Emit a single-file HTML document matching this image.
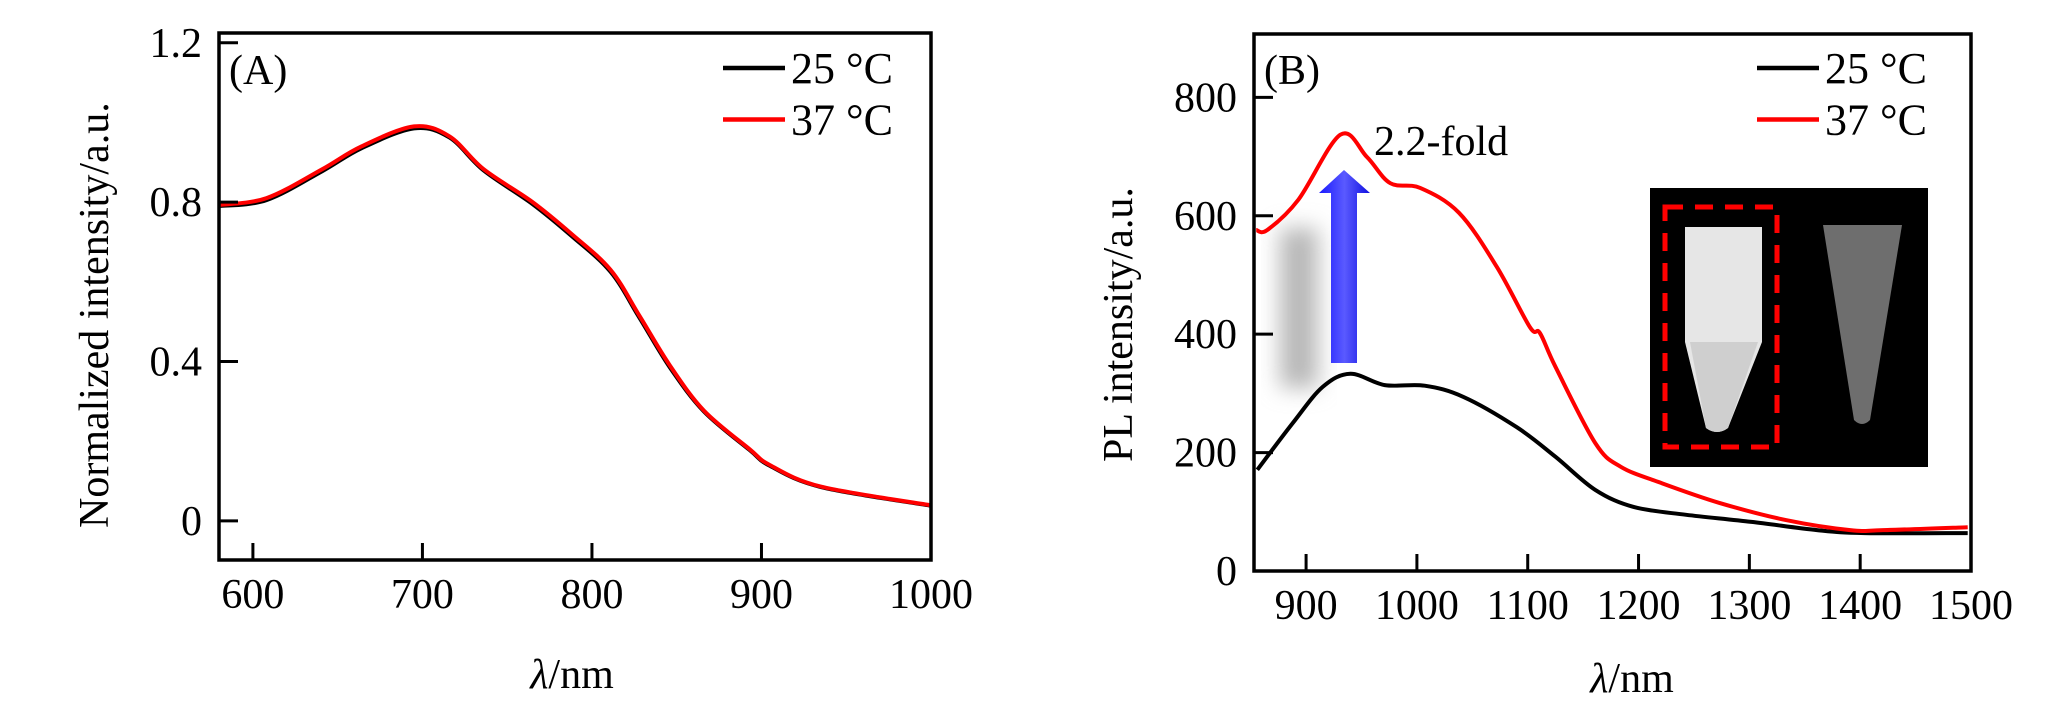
<!DOCTYPE html>
<html><head><meta charset="utf-8"><style>
html,body{margin:0;padding:0;background:#fff;}
svg{display:block;font-family:"Liberation Serif",serif;}
</style></head><body>
<svg id="fig" width="2059" height="709" viewBox="0 0 2059 709" xmlns="http://www.w3.org/2000/svg">
<defs>
<filter id="blur" x="-50%" y="-50%" width="200%" height="200%"><feGaussianBlur stdDeviation="11"/></filter>
<linearGradient id="arrowg" x1="0" x2="1">
<stop offset="0" stop-color="#1a1aff"/><stop offset="0.5" stop-color="#5a5aff"/><stop offset="1" stop-color="#1010e0"/>
</linearGradient>
</defs>
<g id="panelA"></g>
<g id="panelB"></g>
</svg>
<script>
// Panel A data
const aWavelength = [580,608,641,664,695,716,736,765,788,811,828,846,866,893,905,935,1000];
const aValues25 = [0.790,0.805,0.878,0.935,0.985,0.962,0.880,0.795,0.715,0.625,0.510,0.385,0.275,0.178,0.138,0.085,0.038];
const aValues37 = [0.793,0.810,0.883,0.940,0.990,0.965,0.883,0.800,0.720,0.630,0.515,0.390,0.277,0.180,0.140,0.086,0.039];
const aXTicks = [600,700,800,900,1000];
const aYTicks = [0,0.4,0.8,1.2];
const aYTickLabels = ["0","0.4","0.8","1.2"];
// Panel B data
const bWl37 = [855,865,893,931,955,976,1003,1038,1072,1102,1111,1125,1161,1184,1220,1273,1333,1391,1421,1497];
const bVal37 = [576,576,627,737,699,655,647,605,514,412,402,345,216,176,149,115,86,69,69,74];
const bWl25 = [856,888,915,940,971,1007,1042,1090,1125,1161,1196,1243,1302,1361,1404,1497];
const bVal25 = [171,250,311,333,314,313,294,243,193,137,108,95,83,69,64,64];
const bXTicks = [900,1000,1100,1200,1300,1400,1500];
const bYTicks = [0,200,400,600,800];
const legendLabels = ["25 °C","37 °C"];

const NS="http://www.w3.org/2000/svg";
function mk(parent,tag,attrs,text){const e=document.createElementNS(NS,tag);for(const k in attrs)e.setAttribute(k,attrs[k]);if(text!==undefined)e.textContent=text;parent.appendChild(e);return e;}

function smoothPath(P){
  let d="M"+P[0][0].toFixed(1)+","+P[0][1].toFixed(1);
  for(let i=0;i<P.length-1;i++){
    const p0=P[i-1]||P[i],p1=P[i],p2=P[i+1],p3=P[i+2]||p2;
    const c1=[p1[0]+(p2[0]-p0[0])/6,p1[1]+(p2[1]-p0[1])/6];
    const c2=[p2[0]-(p3[0]-p1[0])/6,p2[1]-(p3[1]-p1[1])/6];
    d+=` C${c1[0].toFixed(1)},${c1[1].toFixed(1)} ${c2[0].toFixed(1)},${c2[1].toFixed(1)} ${p2[0].toFixed(1)},${p2[1].toFixed(1)}`;
  }
  return d;
}

function drawPanel(g,cfg){
  const sx=v=>cfg.x0+(v-cfg.xmin)/(cfg.xmax-cfg.xmin)*(cfg.x1-cfg.x0);
  const sy=v=>cfg.y1-(v-cfg.ymin)/(cfg.ymax-cfg.ymin)*(cfg.y1-cfg.y0);
  cfg.series.forEach((s,i)=>{
    const P=s.x.map((v,j)=>[sx(v),sy(s.y[j])]);
    const pl=mk(g,"path",{d:smoothPath(P),fill:"none",stroke:s.color,"stroke-width":4,"stroke-linejoin":"round"});
    
    
  });
  const box=mk(g,"rect",{x:cfg.x0,y:cfg.y0,width:cfg.x1-cfg.x0,height:cfg.y1-cfg.y0,fill:"none",stroke:"#000","stroke-width":3.5});
  
  
  cfg.xticks.forEach(t=>{
    const x=sx(t);
    const l=mk(g,"line",{x1:x,x2:x,y1:cfg.y1,y2:cfg.y1-17,stroke:"#000","stroke-width":3});
    
    
    const tx=mk(g,"text",{x:x,y:cfg.y1+48,"font-size":42,"text-anchor":"middle"},String(t));
    
    
  });
  cfg.yticks.forEach((t,i)=>{
    const y=sy(t);
    const l=mk(g,"line",{x1:cfg.x0,x2:cfg.x0+19,y1:y,y2:y,stroke:"#000","stroke-width":3});
    
    
    const tx=mk(g,"text",{x:cfg.x0-17,y:y+14,"font-size":42,"text-anchor":"end"},cfg.ylabels[i]);
    
    
  });
  const xt=mk(g,"text",{x:cfg.xlabelX,y:cfg.xlabelY,"font-size":42,"text-anchor":"middle"});
  
  
  mk(xt,"tspan",{"font-style":"italic"},"λ");mk(xt,"tspan",{},"/nm");
  const yt=mk(g,"text",{x:0,y:0,"font-size":42,"text-anchor":"start",transform:`translate(${cfg.ylabelX},${cfg.ylabelY}) rotate(-90)`},cfg.ylabel);
  
  
  const pl=mk(g,"text",{x:cfg.x0+10,y:84,"font-size":42},cfg.panelLabel);
  
  
  cfg.series.forEach((s,i)=>{
    const y=68+i*51.5;
    const leg=mk(g,"g",{});
    
    
    mk(leg,"line",{x1:cfg.legX,x2:cfg.legX+62,y1:y,y2:y,stroke:s.color,"stroke-width":4.5});
    mk(leg,"text",{x:cfg.legX+68,y:y+15,"font-size":44},legendLabels[i]);
  });
  return {sx,sy};
}

drawPanel(document.getElementById("panelA"),{
  x0:219,x1:931,y0:33,y1:560,xmin:580,xmax:1000,ymin:-0.0982,ymax:1.2245,
  xticks:aXTicks,yticks:aYTicks,ylabels:aYTickLabels,
  series:[{x:aWavelength,y:aValues25,color:"#000",name:"series-25c"},{x:aWavelength,y:aValues37,color:"#f00",name:"series-37c"}],
  xlabelX:572,xlabelY:688,ylabelX:108,ylabelY:528,ylabel:"Normalized intensity/a.u.",
  panelLabel:"(A)",legX:723
});

const gB=document.getElementById("panelB");
const sh=mk(gB,"rect",{x:1280,y:228,width:38,height:160,fill:"#b8b8b8",filter:"url(#blur)"});


const ar=mk(gB,"path",{d:"M1331,363 L1331,193 L1319,193 L1344,170 L1370,193 L1357,193 L1357,363 Z",fill:"url(#arrowg)"});



drawPanel(gB,{
  x0:1254,x1:1971,y0:34,y1:571,xmin:853,xmax:1500,ymin:0,ymax:907,
  xticks:bXTicks,yticks:bYTicks,ylabels:bYTicks.map(String),
  series:[{x:bWl25,y:bVal25,color:"#000",name:"series-25c"},{x:bWl37,y:bVal37,color:"#f00",name:"series-37c"}],
  xlabelX:1632,xlabelY:692,ylabelX:1132,ylabelY:462,ylabel:"PL intensity/a.u.",
  panelLabel:"(B)",legX:1757
});

const fold=mk(gB,"text",{x:1374,y:155,"font-size":42},"2.2-fold");



const inset=mk(gB,"g",{});


mk(inset,"rect",{x:1650,y:188,width:278,height:279,fill:"#000"});
mk(inset,"path",{d:"M1685,227 L1762,227 L1762,342 L1728,428 Q1717,436 1706,428 L1685,342 Z",fill:"#e6e6e6"});
mk(inset,"path",{d:"M1690,342 L1758,342 L1728,428 Q1717,436 1706,428 Z",fill:"#cfcfcf"});
mk(inset,"path",{d:"M1823,225 L1902,225 L1870,420 Q1862,428 1854,420 Z",fill:"#6e6e6e"});
const dash=mk(inset,"rect",{x:1665,y:207,width:112,height:240,fill:"none",stroke:"#f00","stroke-width":5,"stroke-dasharray":"18,12"});


</script>
</body></html>
